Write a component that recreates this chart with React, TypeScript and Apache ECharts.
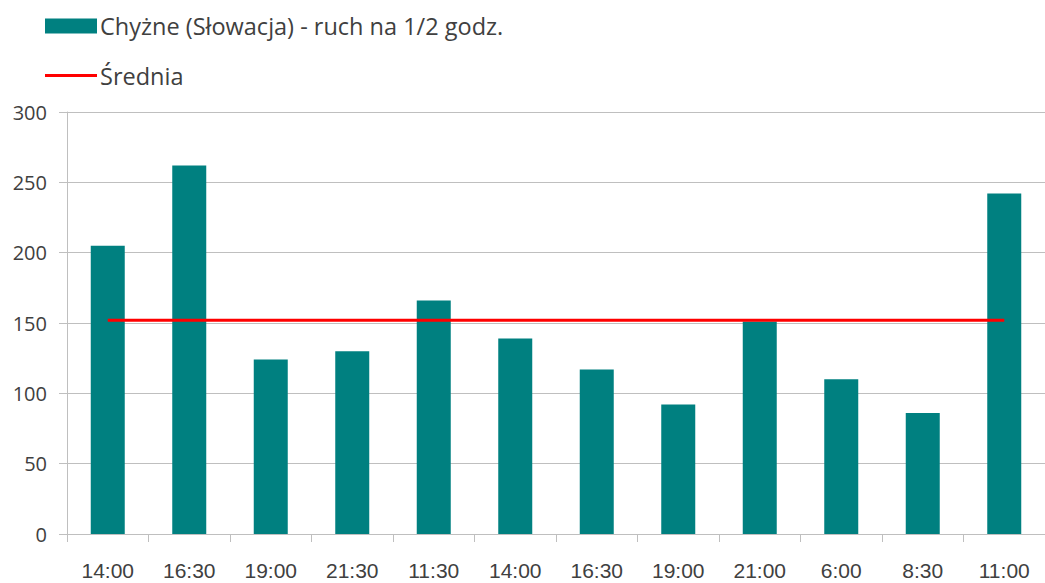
import React, { useEffect, useRef } from "react";
import * as echarts from "echarts";

const categories = ["14:00", "16:30", "19:00", "21:30", "11:30", "14:00", "16:30", "19:00", "21:00", "6:00", "8:30", "11:00"];
const trafficValues = [205, 262, 124, 130, 166, 139, 117, 92, 151, 110, 86, 242];
const averageValues = [152, 152, 152, 152, 152, 152, 152, 152, 152, 152, 152, 152];
const yTicks = { min: 0, max: 300, interval: 50 };
const seriesNames = ["Chyżne (Słowacja) - ruch na 1/2 godz.", "Średnia"];

const FONT = "'Open Sans', 'Liberation Sans', Arial, sans-serif";
const XFONT = "'Liberation Sans', Arial, sans-serif";
const TEXT = "#404040";
const AXIS = "#BFBFBF";

export default function App() {
  const ref = useRef<HTMLDivElement>(null);
  useEffect(() => {
    if (!ref.current) return;
    const chart = echarts.init(ref.current, null, { renderer: "svg" });
    chart.setOption({
      animation: false,
      textStyle: { fontFamily: FONT, color: TEXT },
      legend: {
        orient: "vertical",
        left: 40,
        top: 9,
        padding: 5,
        itemWidth: 52,
        itemHeight: 15,
        itemGap: 25.5,
        textStyle: { fontFamily: FONT, fontSize: 23.5, color: TEXT, padding: [0, 0, 0, -2] },
        data: [
          { name: seriesNames[0], icon: "rect" },
          { name: seriesNames[1], icon: "path://M0,0H52V3H0Z" },
        ],
      },
      grid: { left: 67, top: 112, width: 983, height: 422, containLabel: false },
      xAxis: {
        type: "category",
        data: categories,
        boundaryGap: true,
        axisLine: { show: true, lineStyle: { color: AXIS, width: 1 } },
        axisTick: { show: true, length: 8, lineStyle: { color: AXIS } },
        axisLabel: { fontFamily: XFONT, fontSize: 21, lineHeight: 21, color: TEXT, margin: 26, interval: 0 },
        splitLine: { show: false },
      },
      yAxis: {
        type: "value",
        min: yTicks.min,
        max: yTicks.max,
        interval: yTicks.interval,
        axisLine: { show: true, lineStyle: { color: AXIS, width: 1 } },
        axisTick: { show: true, length: 8, lineStyle: { color: AXIS } },
        axisLabel: { fontFamily: FONT, fontSize: 20, color: TEXT, margin: 20 },
        splitLine: { show: true, lineStyle: { color: AXIS, width: 1 } },
      },
      series: [
        {
          name: seriesNames[0],
          type: "bar",
          data: trafficValues,
          barWidth: 34,
          itemStyle: { color: "#008080" },
        },
        {
          name: seriesNames[1],
          type: "line",
          data: averageValues,
          symbol: "none",
          showSymbol: false,
          lineStyle: { color: "#FF0000", width: 3 },
          itemStyle: { color: "#FF0000" },
        },
      ],
    });
    return () => chart.dispose();
  }, []);
  return (
    <div
      ref={ref}
      style={{ position: "absolute", left: 0, top: 0, width: 1045, height: 583, background: "#fff" }}
    />
  );
}
